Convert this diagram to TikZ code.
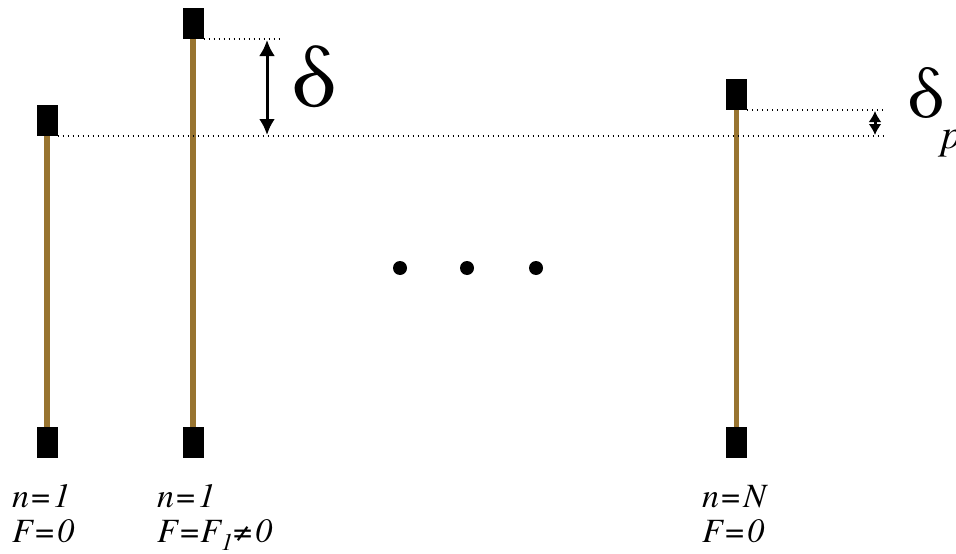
\documentclass[tikz,border=0pt]{standalone}
\usepackage{fontspec}
\setmainfont{texgyretermes}[Extension=.otf, UprightFont=*-regular, ItalicFont=*-italic, BoldFont=*-bold, BoldItalicFont=*-bolditalic]
\usetikzlibrary{arrows.meta}
\definecolor{rodBrown}{RGB}{152,116,48}

\begin{document}
\begin{tikzpicture}[
    x=1pt, y=-1pt,
    block/.style={rectangle, fill=black, minimum width=21pt, minimum height=31pt, inner sep=0pt, outer sep=0pt},
    rod/.style={draw=rodBrown, line width=5.5pt},
    guide/.style={line width=1.2pt, dash pattern=on 1.4pt off 3.6pt},
    disp/.style={draw=black, line width=3pt, -{Latex[length=16pt,width=16pt]}},
    disp small/.style={draw=black, line width=3pt, -{Latex[length=11pt,width=13pt]}},
    dot/.style={circle, fill=black, minimum size=14pt, inner sep=0pt},
    tag/.style={font=\fontsize{34}{36}\selectfont\itshape, anchor=base west, inner sep=0pt}
]
  \useasboundingbox (0,0) rectangle (956,554);

  % springs, top and bottom ends
  \node[block] (top1) at (47,120.5) {};
  \node[block] (bot1) at (47,442.5) {};
  \node[block] (top2) at (193,23.5) {};
  \node[block] (bot2) at (193,442.5) {};
  \node[block] (top3) at (736.5,94.5) {};
  \node[block] (bot3) at (736.5,442.5) {};

  \draw[rod] (top1.south) -- (bot1.north);
  \draw[rod] (top2.south) -- (bot2.north);
  \draw[rod] (top3.south) -- (bot3.north);

  % reference levels
  \coordinate (upEnd) at (282,39);
  \coordinate (lowEnd) at (885,136);
  \coordinate (pEnd) at (885,110);
  \draw[guide] (top2.south east) -- (upEnd);
  \draw[guide] (top1.south east) -- (lowEnd);
  \draw[guide] (top3.south east) -- (pEnd);

  % displacements, arrow from the middle to each level
  \coordinate (dTop) at (267,40);
  \coordinate (dBot) at (267,135);
  \coordinate (dMid) at (267,87.5);
  \coordinate (pTop) at (875,111);
  \coordinate (pBot) at (875,135);
  \coordinate (pMid) at (875,123);
  \draw[disp] (dMid) -- (dTop);
  \draw[disp] (dMid) -- (dBot);
  \draw[disp small] (pMid) -- (pTop);
  \draw[disp small] (pMid) -- (pBot);
  \node[font=\fontsize{90}{90}\selectfont] (delta) at (314,77) {δ};
  \node[font=\fontsize{74}{74}\selectfont, anchor=base west, inner sep=0pt] (deltaP) at (907,117)
    {δ\hspace{-4pt}\raisebox{-31pt}{\fontsize{42}{42}\selectfont\itshape p}};

  % dots
  \node[dot] (d1) at (400,268) {};
  \node[dot] (d2) at (467,268) {};
  \node[dot] (d3) at (536,268) {};

  % labels
  \node[tag] (n1) at (12,507) {n\hspace{2pt}\textup{=}\hspace{3pt}1};
  \node[tag] (f1) at (12,542) {F\hspace{1pt}\textup{=}\hspace{3pt}0};
  \node[tag] (n2) at (157,507) {n\hspace{2pt}\textup{=}\hspace{3pt}1};
  \node[tag] (f2) at (157,542) {F\hspace{1pt}\textup{=}\hspace{1pt}F\raisebox{-8pt}{\fontsize{24}{24}\selectfont 1}\textup{≠}\hspace{3pt}0};
  \node[tag] (n3) at (702,507) {n\hspace{2pt}\textup{=}\hspace{3pt}N};
  \node[tag] (f3) at (702,542) {F\hspace{1pt}\textup{=}\hspace{3pt}0};
\end{tikzpicture}
\end{document}
